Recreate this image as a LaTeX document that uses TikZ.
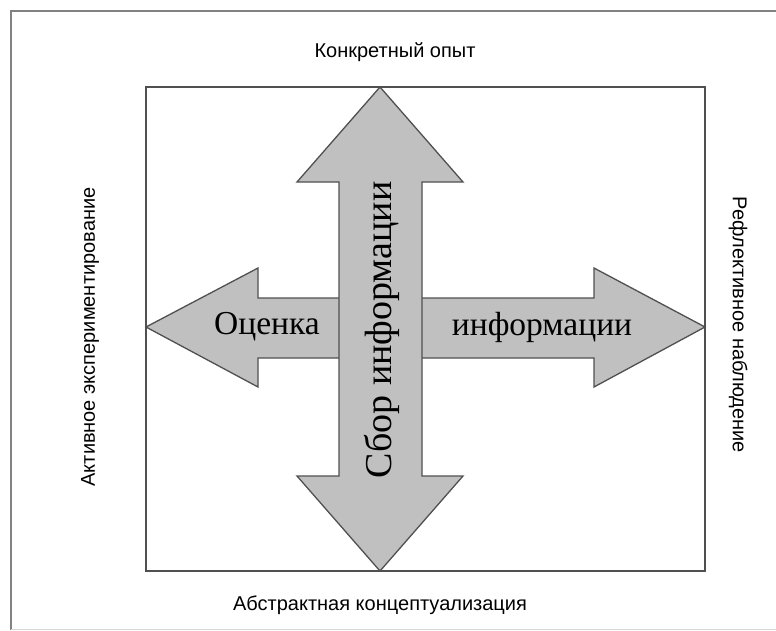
\documentclass[tikz,border=0pt]{standalone}
\usepackage{fontspec}
\setmainfont{Liberation Serif}
\newfontfamily\labelfont{Liberation Sans}
\begin{document}
\begin{tikzpicture}[x=1pt,y=-1pt,
  arrowshape/.style={fill=arrowgray,draw=linegray,line width=1.3pt,line join=miter},
  sidelabel/.style={font=\labelfont\fontsize{20}{24}\selectfont,inner sep=0pt},
  arrowlabel/.style={font=\fontsize{33.5}{38}\selectfont,inner sep=0pt},
  biglabel/.style={font=\fontsize{38}{42}\selectfont,inner sep=0pt}]
\definecolor{arrowgray}{RGB}{192,192,192}
\definecolor{linegray}{RGB}{80,80,80}
\definecolor{framegray}{RGB}{130,130,130}
\useasboundingbox (0,0) rectangle (776,630);
% outer frame
\draw[framegray,line width=1.5pt] (776,11) -- (11,11) -- (11,630);
\draw[black!15,line width=1pt] (11,629) -- (776,629);
% square
\draw[linegray,line width=1.8pt] (146,87) rectangle (705,571);
% horizontal arrow
\draw[arrowshape] (146,327) -- (258,268) -- (258,298) -- (594,298) -- (594,268) -- (705,327)
  -- (594,387) -- (594,358) -- (258,358) -- (258,387) -- cycle;
% vertical arrow
\draw[arrowshape] (380,87) -- (463,182) -- (422,182) -- (422,476) -- (463,476) -- (380,571)
  -- (297,476) -- (339,476) -- (339,182) -- (297,182) -- cycle;
% arrow texts
\node[arrowlabel] (eval) at (267,327) {Оценка};
\node[arrowlabel] (info) at (542,327) {информации};
\node[biglabel,rotate=90] (collect) at (382,330) {Сбор информации};
% side labels
\node[sidelabel] (top) at (395,52) {Конкретный опыт};
\node[sidelabel] (bottom) at (380,605) {Абстрактная концептуализация};
\node[sidelabel,rotate=90] (left) at (90,337) {Активное экспериментирование};
\node[sidelabel,rotate=-90] (right) at (738,325) {Рефлективное наблюдение};
\end{tikzpicture}
\end{document}
